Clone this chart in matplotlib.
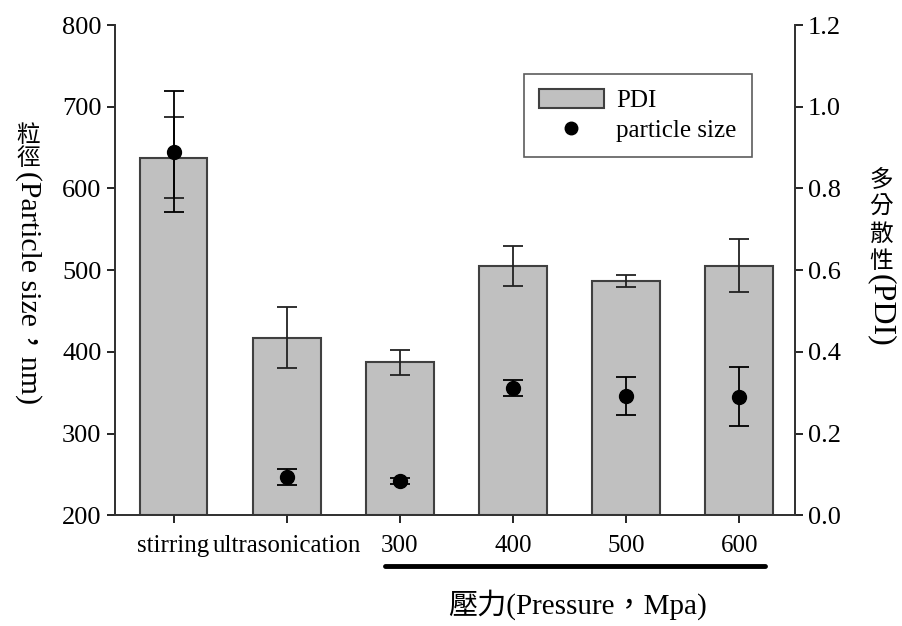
import numpy as np
import matplotlib
matplotlib.use("Agg")
import matplotlib.pyplot as plt
from matplotlib.lines import Line2D
from matplotlib.patches import Patch

plt.rcParams['font.family'] = ['Liberation Serif', 'Noto Sans CJK TC', 'DejaVu Sans']

# data
groups = ["stirring", "ultrasonication", "300", "400", "500", "600"]
pdi = [0.875, 0.435, 0.374, 0.610, 0.574, 0.611]
pdi_err = [0.099, 0.074, 0.031, 0.049, 0.015, 0.064]
size_nm = [645, 247, 242, 356, 346, 345]
size_err = [74, 10, 4, 9.5, 23.6, 36]

fig = plt.figure(figsize=(9.03, 6.26), dpi=100)
ax = fig.add_axes([0.127, 0.177, 0.753, 0.783])
ax2 = ax.twinx()

x = np.arange(len(groups))

# bars (PDI) on the right axis, drawn behind the dots
ax2.bar(x, pdi, width=0.6, color="#c0c0c0", edgecolor="#404040", linewidth=1.5, zorder=1)
ax2.errorbar(x, pdi, yerr=pdi_err, fmt="none", ecolor="#222222", elinewidth=1.3,
             capsize=7, capthick=1.3, zorder=2)

# dots (particle size) on the left axis
ax.set_zorder(ax2.get_zorder() + 1)
ax.patch.set_visible(False)
ax.errorbar(x, size_nm, yerr=size_err, fmt="o", color="black", markersize=10,
            ecolor="black", elinewidth=1.3, capsize=7, capthick=1.3, zorder=3)

ax.set_xlim(-0.52, 5.49)
ax.set_ylim(200, 800)
ax2.set_ylim(0, 1.2)
ax.set_yticks(np.arange(200, 801, 100))
ax2.set_yticks(np.arange(0, 1.21, 0.2))
ax2.set_yticklabels(["%.1f" % v for v in np.arange(0, 1.21, 0.2)])
ax.set_xticks(x)
ax.set_xticklabels(groups)

for a in (ax, ax2):
    a.spines["top"].set_visible(False)
    for s in a.spines.values():
        s.set_linewidth(1.3)
        s.set_color("#333333")
    a.tick_params(direction="out", length=6, width=1.2, labelsize=19, colors="black")
ax.tick_params(axis="x", pad=8, labelsize=18)

# legend
handles = [Patch(facecolor="#c0c0c0", edgecolor="#404040", linewidth=1.5),
           Line2D([], [], marker="o", linestyle="none", color="black", markersize=9)]
leg = ax.legend(handles, ["PDI", "particle size"], loc="upper right",
                bbox_to_anchor=(0.937, 0.9), borderaxespad=0, fontsize=18,
                frameon=True, fancybox=False, handlelength=2.6, handleheight=0.8,
                handletextpad=0.5, borderpad=0.6, labelspacing=0.25)
leg.get_frame().set_edgecolor("#333333")
leg.get_frame().set_linewidth(1.2)

# vertical left label: CJK upright, latin rotated
fig.text(28 / 903, 1 - 136 / 626, "粒", fontsize=17, ha="center", va="center")
fig.text(28 / 903, 1 - 159 / 626, "徑", fontsize=17, ha="center", va="center")
fig.text(28 / 903, 1 - 171 / 626, "(Particle size，nm)", fontsize=21.5, rotation=270,
         ha="center", va="top")

# vertical right label
for ch, yy in zip("多分散性", [181, 208, 235, 262]):
    fig.text(881 / 903, 1 - yy / 626, ch, fontsize=17, ha="center", va="center")
fig.text(881 / 903, 1 - 274 / 626, "(PDI)", fontsize=23, rotation=270, ha="center", va="top")

# pressure group underline and label
fig.add_artist(Line2D([385 / 903, 765 / 903], [1 - 566 / 626, 1 - 566 / 626],
                      color="black", linewidth=3.5, solid_capstyle="round"))
fig.text(578 / 903, 1 - 605 / 626, "壓力(Pressure，Mpa)", fontsize=21, ha="center", va="center")

fig.savefig("out.png", dpi=100)
